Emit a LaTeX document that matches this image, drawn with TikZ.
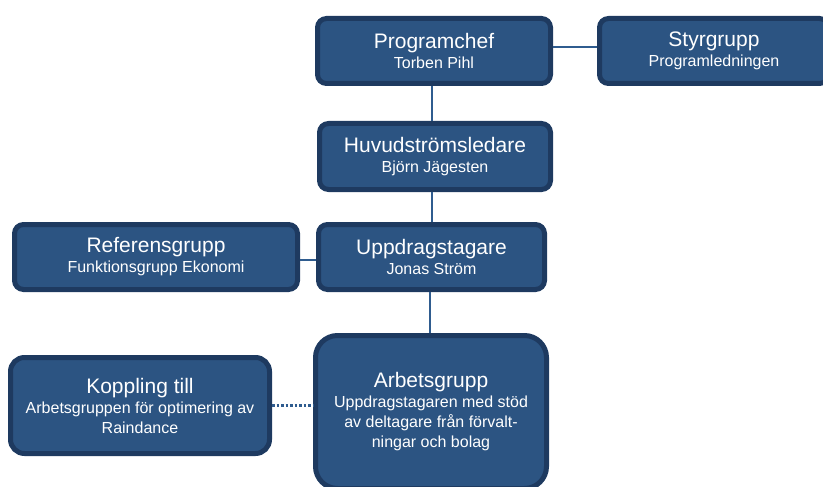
\documentclass[tikz,border=0pt]{standalone}
\usepackage{fontspec}
\setmainfont{Liberation Sans}
\usepackage{tikz}
\definecolor{boxfill}{HTML}{2C5482}
\definecolor{boxline}{HTML}{1E3A60}
\definecolor{linkcol}{HTML}{2F5C8F}
\newcommand{\hd}[1]{{\fontsize{21}{20}\selectfont #1}}

\begin{document}
\begin{tikzpicture}
    [
    x=1pt,y=-1pt,
    unit/.style={rectangle,rounded corners=9pt,draw=boxline,fill=boxfill,line width=5pt,
      text=white,align=center,inner sep=0pt,font=\fontsize{16}{20}\selectfont},
    link/.style={draw=linkcol,line width=2pt}
    ]
    \clip (0,0) rectangle (823,487);
    \node (chef) at (434,51) [unit,minimum width=233pt,minimum height=65pt] {\hd{Programchef}\\Torben Pihl};
    \node (styr) at (714,51) [unit,minimum width=229pt,minimum height=65pt] {\hd{Styrgrupp}\\Programledningen};
    \node (huvud) at (435,156.5) [unit,minimum width=231pt,minimum height=66pt] {\hd{Huvudströmsledare}\\Björn Jägesten};
    \node (ref) at (156,257) [unit,minimum width=283pt,minimum height=65pt] {\hd{Referensgrupp}\\Funktionsgrupp Ekonomi};
    \node (uppdr) at (431.5,257) [unit,minimum width=226pt,minimum height=65pt] {\hd{Uppdragstagare}\\Jonas Ström};
    \node (kopp) at (140,405.5) [unit,rounded corners=14pt,minimum width=259pt,minimum height=96pt] {\hd{Koppling till}\\Arbetsgruppen för optimering av\\Raindance};
    \node (arb) at (431,412) [unit,rounded corners=22pt,minimum width=231pt,minimum height=153pt] {\hd{Arbetsgrupp}\\Uppdragstagaren med stöd\\av deltagare från förvalt-\\ningar och bolag};
    \draw [link] ([yshift=4pt]chef.east) to ([yshift=4pt]styr.west);
    \draw [link] ([xshift=-2pt]chef.south) to ([xshift=-2pt]chef.south |- huvud.north);
    \draw [link] ([xshift=-2pt]chef.south |- huvud.south) to ([xshift=-2pt]chef.south |- uppdr.north);
    \draw [link] ([yshift=-3pt]ref.east) to ([yshift=-3pt]ref.east -| uppdr.west);
    \draw [link] ([xshift=-2pt]uppdr.south) to ([xshift=-2pt]uppdr.south |- arb.north);
    \draw [link, line width=2.5pt, dash pattern=on 2.5pt off 2pt] (kopp.east) to (kopp.east -| arb.west);
  \end{tikzpicture}
\end{document}
